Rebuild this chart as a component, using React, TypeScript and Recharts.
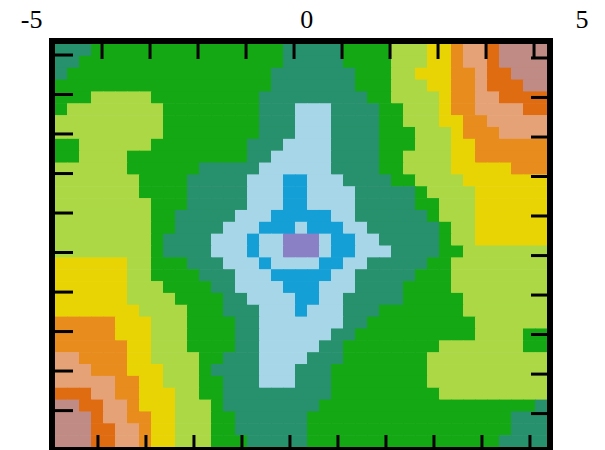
import { Scatter, ScatterChart, XAxis, YAxis } from "recharts";

// contour levels, centre (0) outward to the corners (a)
const levelCodes = "0123456789a";
const levelColors = [
  "#8a80c6", // purple centre
  "#14a0d6", // blue
  "#a6d6e8", // light blue
  "#27906c", // teal green
  "#14a814", // green
  "#acd846", // yellow green
  "#e8d404", // yellow
  "#e88c1e", // orange
  "#e6a277", // salmon
  "#e06c12", // dark orange
  "#c08b84", // mauve
];

// one run-length string per row, top to bottom: "<level>*<cells>"
const rowRuns = [
  "3*3 4*16 3*5 4*4 5*3 6*2 7*1 8*2 9*1 a*4",
  "3*2 4*17 3*5 4*4 5*3 6*2 7*1 8*2 9*1 a*4",
  "3*1 4*17 3*7 4*3 5*2 6*3 7*2 8*1 9*2 a*3",
  "4*18 3*7 4*3 5*3 6*2 7*2 8*1 9*3 a*2",
  "4*3 5*5 4*9 3*9 4*2 5*4 6*1 7*2 8*2 9*4",
  "4*1 5*8 4*8 3*3 2*3 3*4 4*2 5*3 6*1 7*2 8*4 9*2",
  "5*9 4*8 3*3 2*3 3*4 4*2 5*3 6*2 7*2 8*5",
  "5*9 4*8 3*3 2*3 3*4 4*3 5*3 6*1 7*3 8*4",
  "4*2 5*6 4*8 3*3 2*4 3*4 4*3 5*3 6*2 7*6",
  "4*2 5*4 4*10 3*2 2*5 3*4 4*2 5*4 6*2 7*6",
  "5*6 4*6 3*5 2*6 3*4 4*2 5*4 6*5 7*3",
  "5*7 4*4 3*5 2*3 1*2 2*3 3*4 4*2 5*4 6*7",
  "5*7 4*4 3*5 2*3 1*2 2*4 3*5 4*1 5*4 6*6",
  "5*8 4*3 3*5 2*3 1*2 2*4 3*5 4*2 5*3 6*6",
  "5*8 4*2 3*5 2*3 1*5 2*2 3*6 4*1 5*3 6*6",
  "5*8 4*2 3*4 2*3 1*3 2*1 1*3 2*2 3*6 4*1 5*2 6*6",
  "5*8 4*1 3*4 2*3 1*1 2*2 0*3 2*1 1*2 2*2 3*5 4*1 5*2 6*6",
  "5*8 4*1 3*4 2*3 1*1 2*2 0*3 2*1 1*2 2*3 3*4 4*2 5*7",
  "6*6 5*2 4*3 3*3 2*3 1*1 2*4 1*2 2*2 3*5 4*2 5*8",
  "6*6 5*2 4*4 3*3 2*3 1*5 2*2 3*5 4*3 5*8",
  "6*6 5*3 4*4 3*2 2*4 1*3 2*3 3*4 4*4 5*8",
  "6*6 5*4 4*4 3*2 2*4 1*2 2*2 3*5 4*5 5*7",
  "6*7 5*4 4*3 3*3 2*3 1*1 2*3 3*3 4*7 5*7",
  "7*5 6*3 5*3 4*4 3*2 2*7 3*2 4*9 5*6",
  "7*5 6*3 5*3 4*4 3*2 2*6 3*2 4*10 5*4 4*2",
  "7*6 6*2 5*3 4*4 3*2 2*5 3*2 4*8 5*7 4*2",
  "8*2 7*4 6*2 5*4 4*2 3*3 2*4 3*3 4*7 5*10",
  "8*3 7*3 6*3 5*3 4*1 3*4 2*3 3*3 4*8 5*10",
  "8*5 7*2 6*2 5*3 4*2 3*3 2*3 3*3 4*8 5*10",
  "9*3 8*2 7*2 6*3 5*2 4*2 3*9 4*9 5*9",
  "a*2 9*2 8*2 7*1 6*3 5*3 4*1 3*8 4*18 3*1",
  "a*3 9*1 8*2 7*2 6*2 5*3 4*2 3*6 4*17 3*3",
  "a*3 9*2 8*2 7*1 6*2 5*3 4*2 3*6 4*17 3*3",
  "a*3 9*2 8*2 7*1 6*2 5*3 4*3 3*5 4*16 3*4",
];

// frame tick positions, in cell units
const topTicks = [3.92, 7.92, 11.92, 15.92, 19.92, 23.92, 27.92, 31.92, 35.92, 39.92];
const bottomTicks = [3.58, 7.58, 11.58, 15.58, 19.58, 23.58, 27.58, 31.58, 35.58, 39.58];
const leftTicks = [0.93, 4.26, 7.59, 10.93, 14.26, 17.59, 20.93, 24.26, 27.59, 30.93];
const rightTicks = [1.18, 4.51, 7.85, 11.18, 14.51, 17.85, 21.18, 24.51, 27.85, 31.18];
const labelTicks = [-5, 0, 5];

const COLS = 41;
const ROWS = rowRuns.length;
const W = 605;
const H = 450;
const margin = { top: 0, right: 55, bottom: 0, left: 52 };
const LABEL_H = 41;
const xDomain: [number, number] = [-0.25, COLS + 0.25];
const yDomain: [number, number] = [-0.253, ROWS + 0.253];
const labDomain: [number, number] = [-4.63, 4.42];
const cellW = (W - margin.left - margin.right) / (xDomain[1] - xDomain[0]);
const cellH = (H - LABEL_H) / (yDomain[1] - yDomain[0]);

const parseRow = (spec: string): number[] =>
  spec.split(" ").flatMap((run) => {
    const [code, n] = run.split("*");
    return Array(Number(n)).fill(levelCodes.indexOf(code));
  });

const cells = rowRuns.flatMap((spec, r) =>
  parseRow(spec)
    .slice(0, COLS)
    .map((level, c) => ({ col: c + 0.5, row: r + 0.5, lab: 0, level }))
);
// anchors so the frame-only axes have a series of their own
const anchors = [{ col: 20, row: 17, lab: 0 }];

/* eslint-disable @typescript-eslint/no-explicit-any */
function CellRect({ cx, cy, payload }: any) {
  if (cx == null || cy == null) return null;
  return (
    <rect
      x={cx - cellW / 2}
      y={cy - cellH / 2}
      width={cellW + 0.6}
      height={cellH + 0.6}
      fill={levelColors[payload.level]}
    />
  );
}
/* eslint-enable @typescript-eslint/no-explicit-any */
const Nothing = () => <g />;

const frameLine = { stroke: "#000", strokeWidth: 6, strokeLinecap: "square" as const };
const tickLine = { stroke: "#000", strokeWidth: 3 };

export default function App() {
  return (
    <div style={{ position: "absolute", left: 0, top: 0, width: W, height: H, background: "#fff" }}>
      <ScatterChart width={W} height={H} margin={margin}>
        <Scatter
          xAxisId="x"
          yAxisId="y"
          data={cells}
          shape={<CellRect />}
          isAnimationActive={false}
          zIndex={0}
        />
        <Scatter
          xAxisId="top"
          yAxisId="right"
          data={anchors}
          shape={<Nothing />}
          isAnimationActive={false}
        />
        <Scatter
          xAxisId="lab"
          yAxisId="right"
          data={anchors}
          shape={<Nothing />}
          isAnimationActive={false}
        />
        <XAxis
          xAxisId="lab"
          dataKey="lab"
          orientation="top"
          type="number"
          domain={labDomain}
          allowDataOverflow
          ticks={labelTicks}
          interval={0}
          height={LABEL_H}
          axisLine={false}
          tickLine={false}
          tickSize={0}
          tickMargin={13}
          tick={{ fontFamily: "Liberation Serif", fontSize: 26, fill: "#000" }}
        />
        <XAxis
          xAxisId="top"
          dataKey="col"
          orientation="top"
          type="number"
          mirror
          domain={xDomain}
          allowDataOverflow
          ticks={topTicks}
          interval={0}
          tick={<Nothing />}
          tickSize={18}
          tickLine={tickLine}
          axisLine={frameLine}
          zIndex={1000}
        />
        <XAxis
          xAxisId="x"
          dataKey="col"
          orientation="bottom"
          type="number"
          mirror
          domain={xDomain}
          allowDataOverflow
          ticks={bottomTicks}
          interval={0}
          tick={<Nothing />}
          tickSize={15}
          tickLine={tickLine}
          axisLine={frameLine}
          zIndex={1000}
        />
        <YAxis
          yAxisId="y"
          dataKey="row"
          orientation="left"
          type="number"
          mirror
          reversed
          domain={yDomain}
          allowDataOverflow
          ticks={leftTicks}
          interval={0}
          tick={<Nothing />}
          tickSize={21}
          tickLine={tickLine}
          axisLine={frameLine}
          zIndex={1000}
        />
        <YAxis
          yAxisId="right"
          dataKey="row"
          orientation="right"
          type="number"
          mirror
          reversed
          domain={yDomain}
          allowDataOverflow
          ticks={rightTicks}
          interval={0}
          tick={<Nothing />}
          tickSize={19}
          tickLine={tickLine}
          axisLine={frameLine}
          zIndex={1000}
        />
      </ScatterChart>
    </div>
  );
}
